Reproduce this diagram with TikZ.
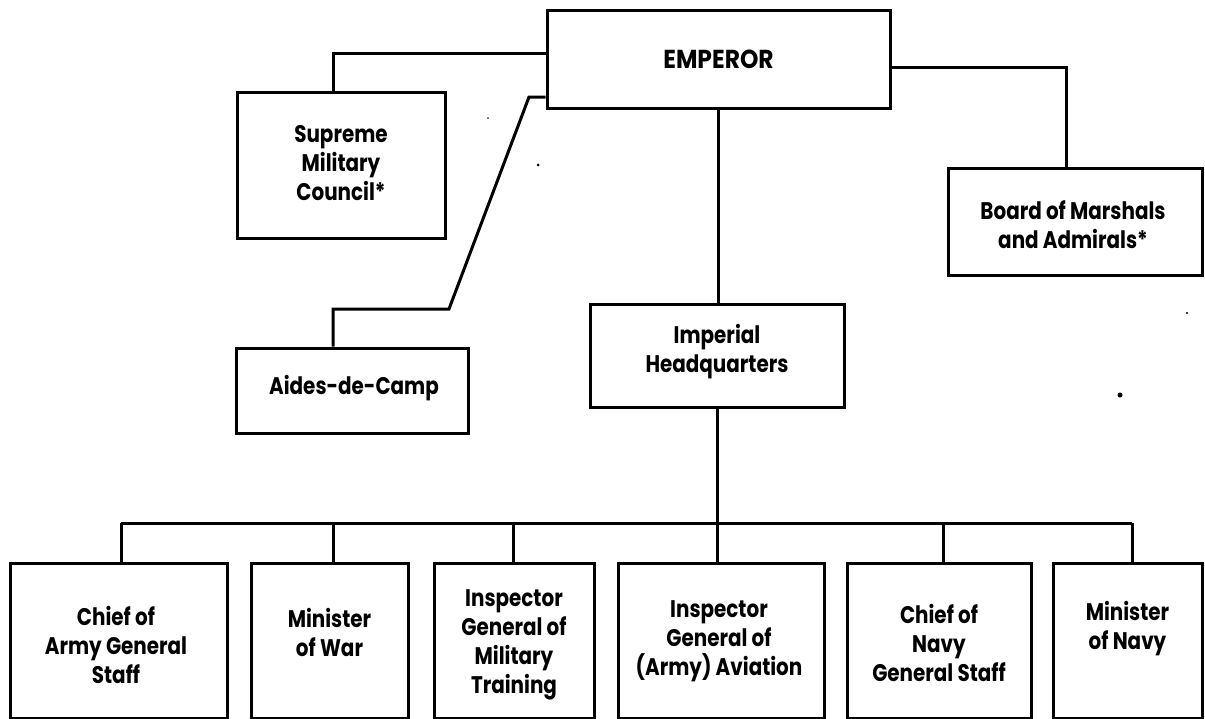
\documentclass[tikz,border=0pt]{standalone}
\usepackage{fontspec}
\newfontfamily\labfont{Poppins}[FakeStretch=0.83]
\newfontfamily\empfont{Poppins}[FakeStretch=0.9]
\begin{document}
\begin{tikzpicture}[x=1pt,y=-1pt,
  box/.style={draw=black, line width=3pt, rectangle, inner sep=0pt, fill=white},
  lbl/.style={align=center, inner sep=0pt, font=\labfont\bfseries\fontsize{24}{29}\selectfont},
  conn/.style={draw=black, line width=3pt, line join=miter},
  speck/.style={fill=black, draw=none}]
\useasboundingbox (0,0) rectangle (1205,718);
\fill[white] (0,0) rectangle (1205,718);
% top level
\node[box, minimum width=343pt, minimum height=98pt] (emp) at (718.5,59) {};
\node[lbl, font=\empfont\bfseries\fontsize{26}{30}\selectfont] (empt) at (emp.center) {EMPEROR};
\node[box, minimum width=208pt, minimum height=146pt] (sup) at (341,165) {};
\node[lbl] (supt) at (341,163) {Supreme\\Military\\Council*};
\node[box, minimum width=254pt, minimum height=107pt] (brd) at (1075,221.5) {};
\node[lbl] (brdt) at (1073,225) {Board of Marshals\\and Admirals*};
\node[box, minimum width=232pt, minimum height=85pt] (aid) at (352,390.5) {};
\node[lbl] (aidt) at (354,388) {Aides-de-Camp};
\node[box, minimum width=254pt, minimum height=103pt] (ihq) at (717,355.5) {};
\node[lbl] (ihqt) at (717,352) {Imperial\\Headquarters};
% bottom row
\node[box, minimum width=217pt, minimum height=155.5pt] (b1) at (118.5,640.75) {};
\node[box, minimum width=157pt, minimum height=155.5pt] (b2) at (329.5,640.75) {};
\node[box, minimum width=160pt, minimum height=155.5pt] (b3) at (514,640.75) {};
\node[box, minimum width=206pt, minimum height=155.5pt] (b4) at (721,640.75) {};
\node[box, minimum width=184pt, minimum height=155.5pt] (b5) at (939,640.75) {};
\node[box, minimum width=149pt, minimum height=155.5pt] (b6) at (1127.5,640.75) {};
\node[lbl] (b1t) at (116,645) {Chief of\\Army General\\Staff};
\node[lbl] (b2t) at (329.5,632.5) {Minister\\of War};
\node[lbl] (b3t) at (514,645) {Inspector\\General of\\Military\\Training};
\node[lbl] (b4t) at (719,641) {Inspector\\General of\\(Army) Aviation};
\node[lbl] (b5t) at (939,643) {Chief of\\Navy\\General Staff};
\node[lbl] (b6t) at (1127.5,628.5) {Minister\\of Navy};
% connectors
\coordinate (d1) at (529,97);
\coordinate (d2) at (449,309);
\coordinate (d3) at (333,309);
\draw[conn] ([yshift=6pt]emp.west) -| ([xshift=-8pt]sup.north);
\draw[conn] ([yshift=-38pt]emp.west) -- (d1) -- (d2) -- (d3) -- ([xshift=-19pt]aid.north);
\draw[conn] ([yshift=-8pt]emp.east) -| ([xshift=-9pt]brd.north);
\draw[conn] (emp.south) -- (emp.south |- ihq.north);
\draw[conn] (ihq.south) -- (ihq.south |- b4.north);
\coordinate (barL) at (121,523);
\coordinate (barR) at (1132,523);
\draw[conn] (barL) -- (barR);
\draw[conn] ([xshift=2.5pt]b1.north) -- ([xshift=2.5pt]b1.north |- barL);
\draw[conn] ([xshift=3.5pt]b2.north) -- ([xshift=3.5pt]b2.north |- barL);
\draw[conn] ([xshift=-1pt]b3.north) -- ([xshift=-1pt]b3.north |- barL);
\draw[conn] ([xshift=4pt]b5.north) -- ([xshift=4pt]b5.north |- barL);
\draw[conn] ([xshift=4.5pt]b6.north) -- ([xshift=4.5pt]b6.north |- barL);
% scan specks
\fill[speck] (1120,395) circle (2.5pt);
\fill[speck] (538,165) circle (1.5pt);
\fill[speck] (1187,313) circle (1.2pt);
\fill[speck] (488,118) circle (0.8pt);
\end{tikzpicture}
\end{document}
